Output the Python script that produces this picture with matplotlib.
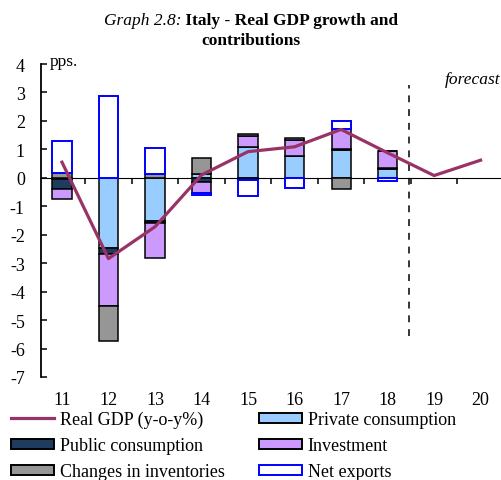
import numpy as np
import matplotlib.pyplot as plt
from matplotlib.patches import Patch
from matplotlib.lines import Line2D

plt.rcParams['font.family'] = ['Liberation Serif', 'DejaVu Serif']

years = ['11', '12', '13', '14', '15', '16', '17', '18', '19', '20']
gdp = [0.55, -2.84, -1.72, 0.10, 0.92, 1.09, 1.70, 0.88, 0.08, 0.62]

# contributions, years 11-18 (no bars in the forecast years 19-20)
private_cons = [-0.05, -2.45, -1.52, 0.13, 1.10, 0.77, 0.97, 0.30]
public_cons = [-0.33, -0.24, -0.06, -0.16, -0.07, 0.00, 0.04, 0.05]
investment = [-0.37, -1.81, -1.24, -0.37, 0.38, 0.56, 0.71, 0.60]
inventories = [0.17, -1.25, 0.15, 0.55, 0.06, 0.07, -0.41, 0.00]
net_exports = [1.13, 2.89, 0.91, -0.07, -0.56, -0.35, 0.28, -0.10]

series = [
    ('Private consumption', private_cons, '#99CCFF', 'black'),
    ('Public consumption', public_cons, '#1F3B5E', 'black'),
    ('Investment', investment, '#CC99FF', 'black'),
    ('Changes in inventories', inventories, '#969696', 'black'),
    ('Net exports', net_exports, 'white', '#0000FF'),
]

fig = plt.figure(figsize=(5.02, 4.81), dpi=100)
ax = fig.add_axes([41.5 / 502, 1 - 378 / 481, 1 - 41.5 / 502, (378 - 65) / 481])

x_bar = np.arange(len(private_cons))
pos_base = np.zeros(len(x_bar))
neg_base = np.zeros(len(x_bar))
for name, vals, fc, ec in series:
    v = np.array(vals)
    bottom = np.where(v >= 0, pos_base, neg_base)
    lw = 1.4 if ec != 'black' else 1.1
    ax.bar(x_bar, v, 0.41, bottom=bottom, color=fc, edgecolor=ec, linewidth=lw, zorder=2)
    pos_base += np.clip(v, 0, None)
    neg_base += np.clip(v, None, 0)

x_all = np.arange(len(years))
ax.plot(x_all, gdp, color='#993366', lw=2.3, zorder=4)

# forecast separator
ax.vlines(7.46, -5.55, 3.25, colors='black', lw=1.1, linestyles=(0, (4.5, 4.5)), zorder=3)
ax.text(9.42, 3.33, 'forecast', ha='right', va='baseline', style='italic', fontsize=12.5)
ax.text(-0.26, 3.95, 'pps.', ha='left', va='baseline', fontsize=12.5)

ax.set_xlim(-0.44, 9.46)
ax.set_ylim(-7, 4)
ax.set_yticks(range(-7, 5))
ax.set_yticklabels([str(v) for v in range(-7, 5)])
ax.set_xticks(x_all)
ax.set_xticklabels(years)
ax.tick_params(axis='y', direction='in', length=4, width=1.1, pad=12, labelsize=13)
ax.tick_params(axis='x', length=0, pad=10, labelsize=13)
for s in ['top', 'right', 'bottom']:
    ax.spines[s].set_visible(False)
ax.spines['left'].set_linewidth(1.3)

# zero line with small category dividers
ylo, yhi = ax.get_ylim()
zero_ax = ax.secondary_xaxis((0 - ylo) / (yhi - ylo))
dividers = np.arange(0.5, 10, 1.0)
zero_ax.set_xticks(dividers, labels=[''] * len(dividers))
zero_ax.tick_params(direction='in', length=4.5, width=1.1)
zero_ax.spines['bottom'].set_linewidth(1.1)

# title: italic prefix + bold text
fig.canvas.draw()
r = fig.canvas.get_renderer()
t1 = fig.text(0, 1 - 25 / 481, 'Graph 2.8:', style='italic', fontsize=12.5, va='baseline')
t2 = fig.text(0, 1 - 25 / 481, ' Italy - Real GDP growth and', weight='bold', fontsize=12.5, va='baseline')
w1 = t1.get_window_extent(r).width / fig.bbox.width
w2 = t2.get_window_extent(r).width / fig.bbox.width
x0 = 0.5 - (w1 + w2) / 2
t1.set_x(x0)
t2.set_x(x0 + w1)
fig.text(0.5, 1 - 45 / 481, 'contributions', weight='bold', fontsize=12.5, ha='center', va='baseline')

# legend
h_gdp = Line2D([], [], color='#993366', lw=2.3)
h = {name: Patch(facecolor=fc, edgecolor=ec, linewidth=1.4) for name, vals, fc, ec in series}
handles = [h_gdp, h['Public consumption'], h['Changes in inventories'],
           h['Private consumption'], h['Investment'], h['Net exports']]
labels = ['Real GDP (y-o-y%)', 'Public consumption', 'Changes in inventories',
          'Private consumption', 'Investment', 'Net exports']
fig.legend(handles, labels, ncol=2, loc='upper left', bbox_to_anchor=(0.0, 1 - 401 / 481),
           frameon=False, fontsize=13, handlelength=2.4, handleheight=0.45,
           handletextpad=0.3, columnspacing=1.9, labelspacing=0.5, borderaxespad=0.2)

fig.savefig('out.png', dpi=100)
